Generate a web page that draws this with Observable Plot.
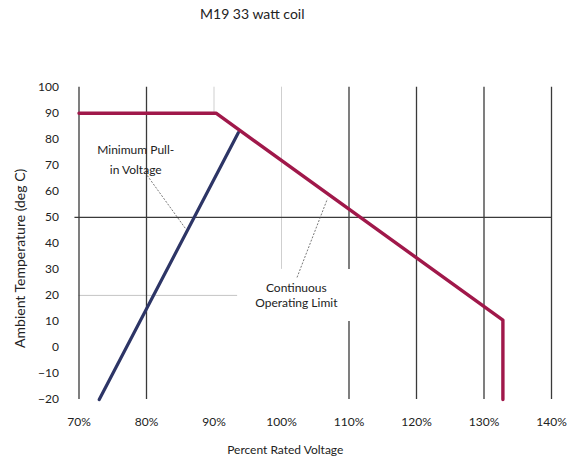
<!DOCTYPE html>
<html>
<head>
<meta charset="utf-8">
<script src="https://cdn.jsdelivr.net/npm/d3@7"></script>
<script src="https://cdn.jsdelivr.net/npm/@observablehq/plot@0.6"></script>
<style>
  html, body { margin: 0; padding: 0; background: white; }
</style>
</head>
<body>
<div id="chart"></div>
<script>
// ---- data ----
const title = "M19 33 watt coil";
const xLabel = "Percent Rated Voltage";
const yLabel = "Ambient Temperature (deg C)";
const xTicks = [70, 80, 90, 100, 110, 120, 130, 140];
const yTicks = [-20, -10, 0, 10, 20, 30, 40, 50, 60, 70, 80, 90, 100];

// Continuous Operating Limit
const limitVoltage = [70, 90.3, 132.8, 132.8];
const limitTemp = [90, 90, 10.5, -20];

// Minimum Pull-in Voltage
const pullInVoltage = [73, 93.6];
const pullInTemp = [-20, 82.5];

// grid segments
const darkGridX = [70, 80, 110, 110, 120, 130, 140];
const darkGridFrom = [-20, -20, 30, -20, -20, -20, -20];
const darkGridTo = [100, 100, 100, 10, 100, 100, 100];
const lightGridX = [90, 100];
const lightGridFrom = [90, 30];
const lightGridTo = [100, 100];
const darkGridY = [50];
const lightGridY = [20];

// annotations
const noteText = ["Minimum Pull-\nin Voltage", "Continuous\nOperating Limit"];
const noteX = [78.4, 102.2];
const noteY = [73, 20.4];
const leaderX1 = [80.1, 102.3];
const leaderY1 = [66.1, 26.9];
const leaderX2 = [85.8, 106.8];
const leaderY2 = [45.6, 57.1];

const limit = limitVoltage.map((v, i) => ({v, t: limitTemp[i]}));
const pullIn = pullInVoltage.map((v, i) => ({v, t: pullInTemp[i]}));
const darkGrid = darkGridX.map((x, i) => ({x, y1: darkGridFrom[i], y2: darkGridTo[i]}));
const lightGrid = lightGridX.map((x, i) => ({x, y1: lightGridFrom[i], y2: lightGridTo[i]}));
const leaders = leaderX1.map((x, i) => ({x1: x, y1: leaderY1[i], x2: leaderX2[i], y2: leaderY2[i]}));

const chart = Plot.plot({
  width: 568,
  height: 461,
  marginLeft: 78.5,
  marginRight: 17,
  marginTop: 86.7,
  marginBottom: 62,
  style: {fontFamily: "Lato", fontSize: "12px", color: "#222", background: "white"},
  x: {domain: [70, 140], ticks: xTicks, tickFormat: d => d + "%", tickSize: 0, tickPadding: 18, label: null},
  y: {domain: [-20, 100], ticks: yTicks, tickSize: 0, tickPadding: 20, label: null},
  marks: [
    Plot.ruleX(lightGrid, {x: "x", y1: "y1", y2: "y2", stroke: "#cfcfcf", strokeWidth: 1}),
    Plot.ruleY(lightGridY, {x1: 70, x2: 93.5, stroke: "#c4c4c4", strokeWidth: 1}),
    Plot.ruleX(darkGrid, {x: "x", y1: "y1", y2: "y2", stroke: "#3a3a3a", strokeWidth: 1.3}),
    Plot.ruleY(darkGridY, {x1: 69.4, x2: 140, stroke: "#3a3a3a", strokeWidth: 1.3}),
    Plot.link(leaders, {x1: "x1", y1: "y1", x2: "x2", y2: "y2", stroke: "#555", strokeWidth: 0.8, strokeDasharray: "2,1.5"}),
    Plot.line(pullIn, {x: "v", y: "t", stroke: "#2d3566", strokeWidth: 3.2}),
    Plot.line(limit, {x: "v", y: "t", stroke: "#a0184a", strokeWidth: 3.4}),
    Plot.text([noteText[0]], {x: noteX[0], y: noteY[0], lineHeight: 1.65, fill: "#222"}),
    Plot.text([noteText[1]], {x: noteX[1], y: noteY[1], lineHeight: 1.3, fill: "#222"}),
    Plot.text([title], {frameAnchor: "top", textAnchor: "middle", lineAnchor: "middle", dx: -63, dy: -72.7, fontSize: 14, fill: "#222"}),
    Plot.text([xLabel], {frameAnchor: "bottom", textAnchor: "middle", lineAnchor: "middle", dx: -30, dy: 51, fill: "#222"}),
    Plot.text([yLabel], {frameAnchor: "left", textAnchor: "middle", lineAnchor: "middle", rotate: -90, dx: -58.5, dy: 15, fontSize: 14, fill: "#222"})
  ]
});
document.getElementById("chart").appendChild(chart);
</script>
</body>
</html>
